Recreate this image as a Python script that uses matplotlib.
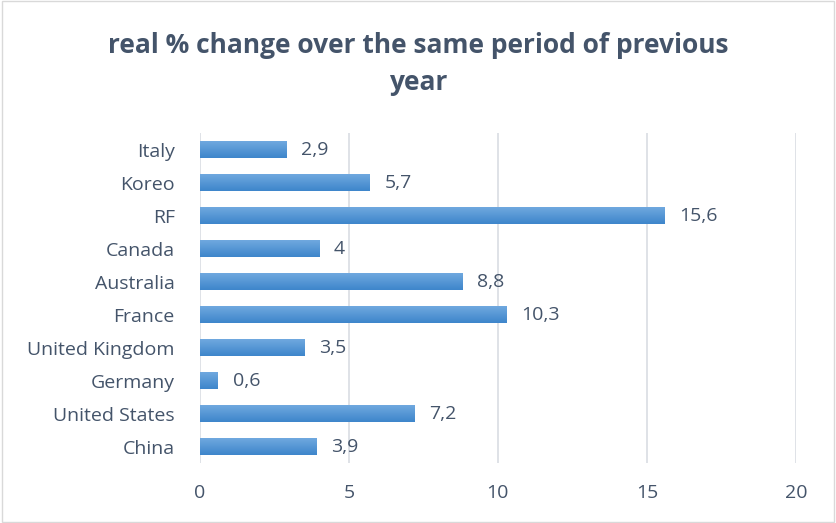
import numpy as np
import matplotlib.pyplot as plt
from matplotlib.patches import Rectangle

countries = ["China", "United States", "Germany", "United Kingdom", "France",
             "Australia", "Canada", "RF", "Koreo", "Italy"]
values = [3.9, 7.2, 0.6, 3.5, 10.3, 8.8, 4, 15.6, 5.7, 2.9]
labels = ["3,9", "7,2", "0,6", "3,5", "10,3", "8,8", "4", "15,6", "5,7", "2,9"]

text_col = "#44546a"
plt.rcParams["font.family"] = ["Open Sans", "DejaVu Sans"]

fig = plt.figure(figsize=(8.36, 5.23), dpi=100)
ax = fig.add_axes([0.239, 0.114, 0.713, 0.631])

# bars with a light-to-dark vertical gradient
grad = np.linspace(0, 1, 64).reshape(-1, 1)
cmap = plt.matplotlib.colors.LinearSegmentedColormap.from_list(
    "bar", ["#3e86cb", "#72aae0"])
bars = ax.barh(range(len(values)), values, height=0.52, color="#5b9bd5", zorder=2)
for b in bars:
    x0, y0 = b.get_x(), b.get_y()
    w, h = b.get_width(), b.get_height()
    im = ax.imshow(grad, cmap=cmap, aspect="auto", origin="lower",
                   extent=(x0, x0 + w, y0, y0 + h), zorder=3)
    im.set_clip_path(b)

for i, (v, lab) in enumerate(zip(values, labels)):
    ax.text(v + 0.5, i, lab, va="center", ha="left", fontsize=14, color=text_col)

ax.set_xlim(0, 20)
ax.set_ylim(-0.5, len(values) - 0.5)
ax.set_xticks([0, 5, 10, 15, 20])
ax.set_yticks(range(len(countries)))
ax.set_yticklabels(countries)
ax.tick_params(axis="both", length=0, labelsize=14, colors=text_col)
ax.tick_params(axis="x", pad=15)
ax.tick_params(axis="y", pad=18)
ax.grid(axis="x", color="#d9dde3", linewidth=1.2, zorder=0)
for s in ax.spines.values():
    s.set_visible(False)

fig.text(0.5, 0.878, "real % change over the same period of previous\nyear",
         ha="center", va="center", fontsize=19, fontweight="bold",
         color=text_col, linespacing=1.5)

fig.patches.append(Rectangle((0.002, 0.002), 0.996, 0.996, transform=fig.transFigure,
                             fill=False, edgecolor="#d9d9d9", linewidth=1))

fig.savefig("out.png", dpi=100)
